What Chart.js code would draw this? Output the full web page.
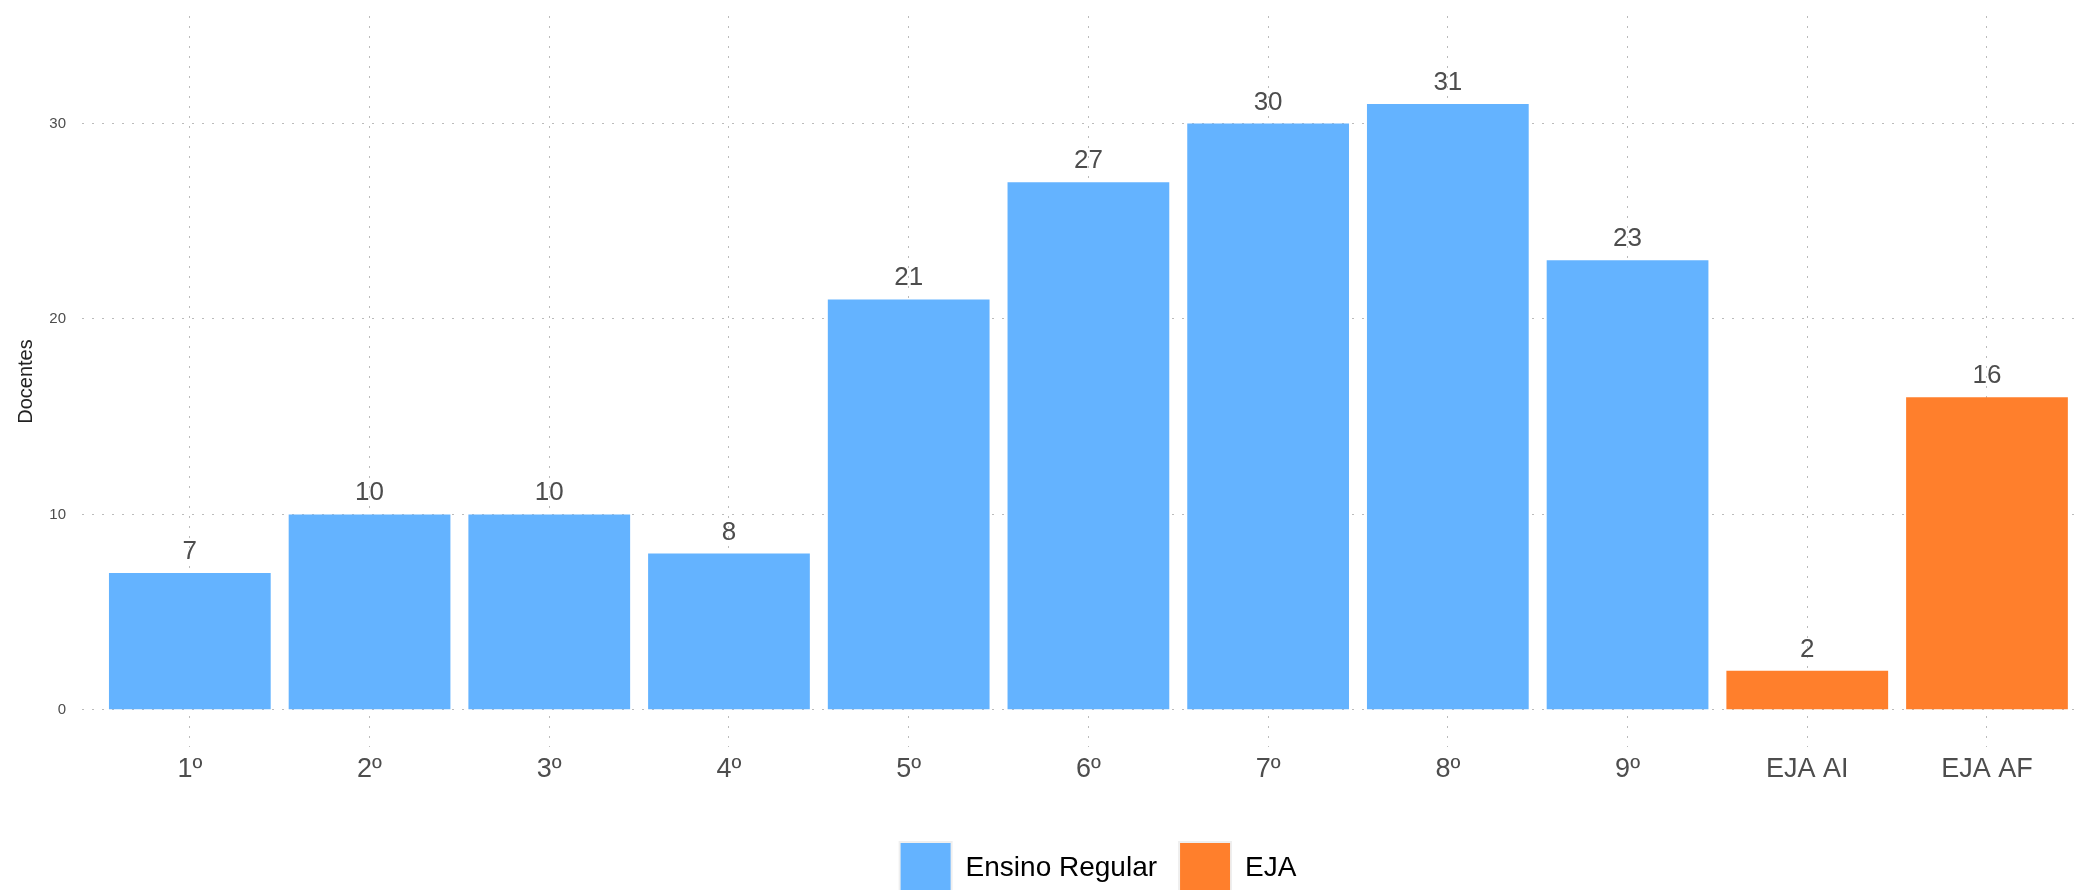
<!DOCTYPE html>
<html>
<head>
<meta charset="utf-8">
<script src="https://cdn.jsdelivr.net/npm/chart.js@4"></script>
<style>
	html, body { margin: 0; padding: 0; background: #fff; overflow: hidden; }
	#wrap { width: 2196px; height: 904px; }
</style>
</head>
<body>
<div id="wrap"><canvas id="myChart" width="2196" height="904"></canvas></div>
<script>
const categories = [ '1º', '2º', '3º', '4º', '5º', '6º', '7º', '8º', '9º', 'EJA AI', 'EJA AF' ];
const regularValues = [ 7, 10, 10, 8, 21, 27, 30, 31, 23 ];
const ejaValues = [ 2, 16 ];
const yTicks = [ 0, 10, 20, 30 ];

const regularData = regularValues.map((v, i) => ({ x: i + 1, y: v }));
const ejaData = ejaValues.map((v, i) => ({ x: regularValues.length + i + 1, y: v }));

Chart.defaults.font.family = "'Liberation Sans', Arial, sans-serif";

// value labels above bars
const barLabels = {
	id: 'barLabels',
	afterDatasetsDraw(chart) {
		const ctx = chart.ctx;
		ctx.save();
		ctx.font = "26px 'Liberation Sans', Arial, sans-serif";
		ctx.fillStyle = '#4d4d4d';
		ctx.textAlign = 'center';
		ctx.textBaseline = 'alphabetic';
		chart.data.datasets.forEach((ds, di) => {
			chart.getDatasetMeta(di).data.forEach((bar, i) => {
				ctx.fillText(ds.data[i].y, bar.x, bar.y - 14);
			});
		});
		ctx.restore();
	}
};

const ctx = document.getElementById('myChart').getContext('2d');

const chart = new Chart(ctx, {
	type: 'bar',
	data: {
		datasets: [
			{
				label: 'Ensino Regular',
				data: regularData,
				backgroundColor: '#64b3ff'
			},
			{
				label: 'EJA',
				data: ejaData,
				backgroundColor: '#ff7f2c'
			}
		]
	},
	options: {
		responsive: false,
		animation: false,
		grouped: false,
		barPercentage: 0.9,
		categoryPercentage: 1,
		layout: {
			padding: { top: 16, left: 0, right: 0, bottom: 0 }
		},
		plugins: {
			tooltip: { enabled: false },
			legend: {
				position: 'bottom',
				labels: {
					boxWidth: 52,
					boxHeight: 52,
					padding: 22,
					color: '#000',
					font: { size: 28 },
					generateLabels(chart) {
						return chart.data.datasets.map((ds, i) => ({
							text: ds.label,
							fillStyle: ds.backgroundColor,
							strokeStyle: '#efefef',
							lineWidth: 2,
							datasetIndex: i
						}));
					}
				}
			}
		},
		scales: {
			x: {
				type: 'linear',
				offset: false,
				min: 0.4,
				max: 1 + (2196 - 190) / 179.7,
				afterBuildTicks(scale) {
					scale.ticks = categories.map((c, i) => ({ value: i + 1 }));
				},
				afterFit(scale) {
					scale.height = 73;
				},
				ticks: {
					color: '#4d4d4d',
					font: { size: 27 },
					padding: 6,
					maxRotation: 0,
					autoSkip: false,
					callback: (value) => categories[value - 1]
				},
				grid: {
					offset: false,
					color: '#bbbbbb',
					lineWidth: 1,
					drawTicks: false
				},
				border: { display: false, dash: [ 2, 8 ] }
			},
			y: {
				min: -1.9,
				max: 35.5,
				afterBuildTicks(scale) {
					scale.ticks = yTicks.map((v) => ({ value: v }));
				},
				afterFit(scale) {
					scale.width = 82;
					scale.paddingTop = 0;
					scale.paddingBottom = 0;
				},
				title: {
					display: true,
					text: 'Docentes',
					color: '#222',
					font: { size: 20 },
					padding: { top: 14, bottom: 0 }
				},
				ticks: {
					color: '#4d4d4d',
					font: { size: 15 },
					padding: 16
				},
				grid: {
					color: '#bbbbbb',
					lineWidth: 1,
					drawTicks: false
				},
				border: { display: false, dash: [ 2, 8 ] }
			}
		}
	},
	plugins: [ barLabels ]
});
</script>
</body>
</html>
